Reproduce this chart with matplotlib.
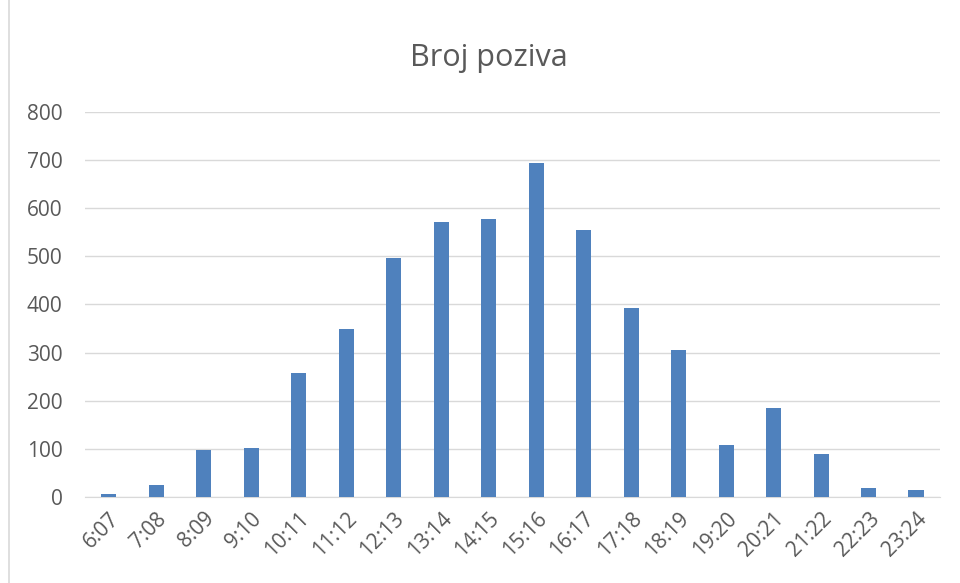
import matplotlib.pyplot as plt
from matplotlib.patches import Rectangle

hours = ["6:07", "7:08", "8:09", "9:10", "10:11", "11:12", "12:13", "13:14", "14:15",
         "15:16", "16:17", "17:18", "18:19", "19:20", "20:21", "21:22", "22:23", "23:24"]
calls = [6, 25, 98, 101, 258, 349, 497, 572, 578, 694, 555, 393, 306, 108, 185, 89, 19, 14]
yticks = [0, 100, 200, 300, 400, 500, 600, 700, 800]

plt.rcParams['font.family'] = ['Open Sans', 'DejaVu Sans']
grey = "#595959"

fig = plt.figure(figsize=(9.6, 5.83), dpi=100)
fig.patches.append(Rectangle((0.009, -0.01), 1.0, 1.02, transform=fig.transFigure,
                             fill=False, edgecolor="#d9d9d9", linewidth=1.2))
ax = fig.add_axes([0.0885, 0.1475, 0.8905, 0.6605])

x = list(range(len(hours)))
ax.bar(x, calls, width=0.32, color="#4f81bd", zorder=3)

ax.set_xlim(-0.5, len(hours) - 0.5)
ax.set_ylim(0, 800)
ax.set_yticks(yticks)
ax.set_yticklabels([str(v) for v in yticks], fontsize=15, color=grey)
ax.set_xticks(x)
ax.set_xticklabels(hours, rotation=45, ha="right", rotation_mode="anchor",
                   fontsize=15, color=grey)
ax.tick_params(axis="both", length=0)
ax.tick_params(axis="y", pad=16)
ax.tick_params(axis="x", pad=8)
ax.grid(axis="y", color="#d9d9d9", linewidth=1, zorder=0)
for s in ["top", "right", "left"]:
    ax.spines[s].set_visible(False)
ax.spines["bottom"].set_color("#d9d9d9")

fig.text(0.509, 0.9, "Broj poziva", ha="center", va="center", fontsize=22, color=grey)

fig.savefig("out.png", dpi=100)
